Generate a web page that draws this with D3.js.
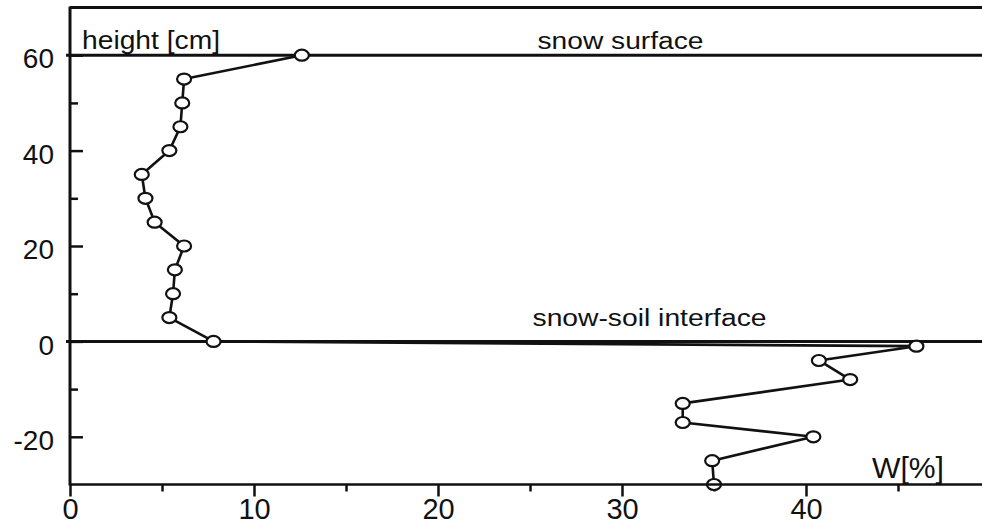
<!DOCTYPE html>
<html>
<head>
<meta charset="utf-8">
<script src="https://cdn.jsdelivr.net/npm/d3@7"></script>
<style>
  html, body { margin: 0; padding: 0; background: #fff; }
  svg { display: block; }
  text { font-family: "Liberation Sans", Arial, Helvetica, sans-serif; fill: #111; }
</style>
</head>
<body>
<svg id="chart" width="982" height="526"></svg>
<script>
// Water content profile through snow pack and soil
const heights = [60, 55, 50, 45, 40, 35, 30, 25, 20, 15, 10, 5, 0,
                 -1, -4, -8, -13, -17, -20, -25, -30];
const wetness = [12.6, 6.2, 6.1, 6.0, 5.4, 3.9, 4.1, 4.6, 6.2, 5.7, 5.6, 5.4, 7.8,
                 46.0, 40.7, 42.4, 33.3, 33.3, 40.4, 34.9, 35.0];

const xMajorTicks = [0, 10, 20, 30, 40];
const xMinorTicks = [5, 15, 25, 35, 45];
const yMajorTicks = [-20, 0, 20, 40, 60];
const yMinorTicks = [-10, 10, 30, 50];

const boundaryLevels = [60, 0];
const boundaryNames = ["snow surface", "snow-soil interface"];
const yTitle = "height [cm]";
const xTitle = "W[%]";

const svg = d3.select("#chart");
const ink = "#111";
const plainNumber = d => String(d);   // keep the ASCII hyphen for negatives

const x = d3.scaleLinear().domain([0, 50]).range([70, 990]);
const y = d3.scaleLinear().domain([-30, 70]).range([484.5, 7.5]);

// bottom axis: major ticks with labels, minor ticks without
const xAxisMajor = svg.append("g")
  .attr("transform", `translate(0,${y(-30)})`)
  .call(d3.axisBottom(x).tickValues(xMajorTicks).tickSize(12).tickSizeOuter(0).tickFormat(plainNumber));
xAxisMajor.select(".domain").remove();
xAxisMajor.selectAll(".tick line").attr("stroke", ink).attr("stroke-width", 2.5);
xAxisMajor.selectAll(".tick text")
  .attr("font-size", 29).attr("dy", null).attr("y", 34.5).attr("fill", ink);

const xAxisMinor = svg.append("g")
  .attr("transform", `translate(0,${y(-30)})`)
  .call(d3.axisBottom(x).tickValues(xMinorTicks).tickSize(7).tickSizeOuter(0).tickFormat(""));
xAxisMinor.select(".domain").remove();
xAxisMinor.selectAll(".tick line").attr("stroke", ink).attr("stroke-width", 2.5);

// left axis: ticks point inward
const yAxisMajor = svg.append("g")
  .attr("transform", `translate(${x(0)},0)`)
  .call(d3.axisLeft(y).tickValues(yMajorTicks).tickSize(0).tickPadding(16).tickFormat(plainNumber));
yAxisMajor.select(".domain").remove();
yAxisMajor.selectAll(".tick text").attr("font-size", 28).attr("dy", "0.45em").attr("fill", ink);
yAxisMajor.selectAll(".tick").append("line")
  .attr("x1", 0).attr("x2", 13).attr("stroke", ink).attr("stroke-width", 2.5);

const yAxisMinor = svg.append("g")
  .attr("transform", `translate(${x(0)},0)`)
  .call(d3.axisRight(y).tickValues(yMinorTicks).tickSize(8).tickSizeOuter(0).tickFormat(""));
yAxisMinor.select(".domain").remove();
yAxisMinor.selectAll(".tick line").attr("stroke", ink).attr("stroke-width", 2.5);

// frame: left axis line and top border
svg.append("line")
  .attr("x1", x(0)).attr("x2", x(0)).attr("y1", y(70) - 1).attr("y2", y(-30) + 1)
  .attr("stroke", ink).attr("stroke-width", 3);
svg.append("line")
  .attr("x1", x(0)).attr("x2", x(50)).attr("y1", y(70)).attr("y2", y(70))
  .attr("stroke", ink).attr("stroke-width", 3);

// snow surface and snow-soil interface
svg.selectAll("line.boundary")
  .data(boundaryLevels)
  .enter().append("line")
  .attr("class", "boundary")
  .attr("x1", x(0) - 4).attr("x2", x(50))
  .attr("y1", d => y(d)).attr("y2", d => y(d))
  .attr("stroke", ink).attr("stroke-width", 3);

// profile line
const pts = heights.map((h, i) => ({ h, w: wetness[i] }));
svg.append("path")
  .datum(pts)
  .attr("fill", "none")
  .attr("stroke", ink)
  .attr("stroke-width", 2.6)
  .attr("stroke-linejoin", "round")
  .attr("d", d3.line().x(d => x(d.w)).y(d => y(d.h)));

// open markers
svg.selectAll("ellipse.pt")
  .data(pts)
  .enter().append("ellipse")
  .attr("class", "pt")
  .attr("cx", d => x(d.w)).attr("cy", d => y(d.h))
  .attr("rx", 7).attr("ry", 5.5)
  .attr("fill", "#fff")
  .attr("stroke", ink)
  .attr("stroke-width", 2.2);

// bottom axis line drawn over the last marker
svg.append("line")
  .attr("x1", x(0)).attr("x2", x(50)).attr("y1", y(-30)).attr("y2", y(-30))
  .attr("stroke", ink).attr("stroke-width", 2.5);

// labels
svg.append("text")
  .attr("x", 82).attr("y", 48.5)
  .attr("font-size", 25)
  .attr("textLength", 138).attr("lengthAdjust", "spacingAndGlyphs")
  .text(yTitle);

svg.selectAll("text.boundary-label")
  .data(boundaryNames)
  .enter().append("text")
  .attr("class", "boundary-label")
  .attr("x", (d, i) => [537.5, 532.5][i])
  .attr("y", (d, i) => y(boundaryLevels[i]) - [6, 15][i])
  .attr("font-size", 23)
  .attr("textLength", (d, i) => [166, 234][i])
  .attr("lengthAdjust", "spacingAndGlyphs")
  .text(d => d);

svg.append("text")
  .attr("x", 872).attr("y", 477.5)
  .attr("font-size", 30)
  .attr("textLength", 72).attr("lengthAdjust", "spacingAndGlyphs")
  .text(xTitle);
</script>
</body>
</html>
